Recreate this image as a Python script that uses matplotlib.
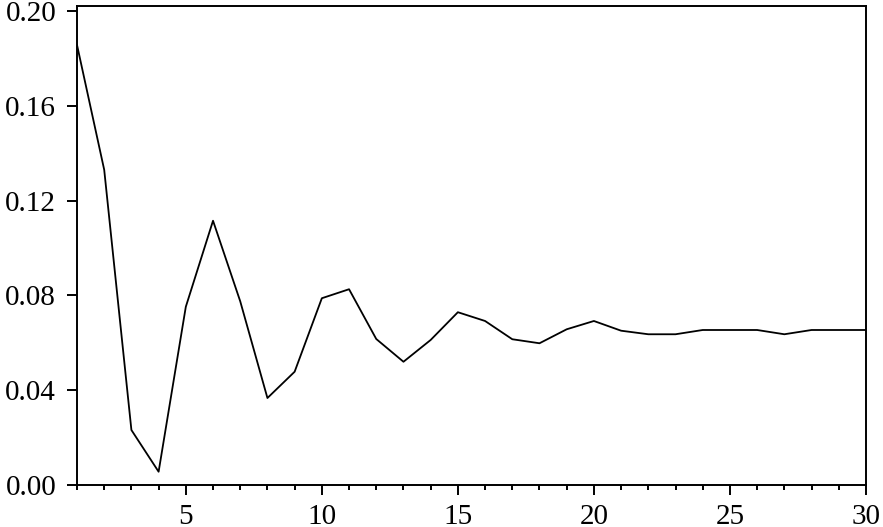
import matplotlib.pyplot as plt
import numpy as np
from matplotlib.ticker import MultipleLocator

plt.rcParams['font.family'] = ['Liberation Serif', 'DejaVu Serif']

# 数据
periods = np.arange(1, 31)
values = [0.1857, 0.1330, 0.0232, 0.0056, 0.0752, 0.1115, 0.0775, 0.0367, 0.0478, 0.0788,
          0.0826, 0.0616, 0.0520, 0.0612, 0.0729, 0.0692, 0.0615, 0.0598, 0.0657, 0.0692,
          0.0651, 0.0636, 0.0636, 0.0654, 0.0654, 0.0654, 0.0636, 0.0654, 0.0654, 0.0654]
yticks = [0.00, 0.04, 0.08, 0.12, 0.16, 0.20]

fig = plt.figure(figsize=(8.83, 5.27), dpi=100)
ax = fig.add_axes([0.0872, 0.0797, 0.8935, 0.9089])

ax.plot(periods, values, color='black', linewidth=1.3)

# 坐标轴设置
ax.set_xlim(1, 30)
ax.set_ylim(0, 0.2021)
ax.xaxis.set_major_locator(MultipleLocator(5))
ax.xaxis.set_minor_locator(MultipleLocator(1))
ax.set_yticks(yticks)
ax.set_yticklabels(['%.2f' % v for v in yticks])

for s in ax.spines.values():
    s.set_linewidth(1.4)
ax.tick_params(axis='both', which='major', direction='out', length=7, width=1.4,
               labelsize=21, pad=7)
ax.tick_params(axis='y', which='major', pad=8)
ax.tick_params(axis='x', which='minor', direction='out', length=3.5, width=1.4)
ax.tick_params(axis='y', which='minor', left=False)

fig.savefig('out.png', dpi=100)
